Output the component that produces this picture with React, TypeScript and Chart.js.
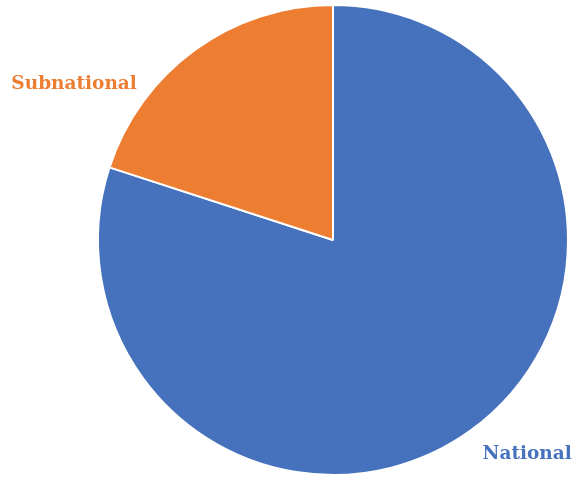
import React, { useEffect, useRef } from "react";
import { Chart, registerables } from "chart.js";

Chart.register(...registerables);

const categories = ["National", "Subnational"];
const values = [80, 20];
const colors = ["#4672BD", "#ED7D31"];

const labelPlugin = {
  id: "sliceLabels",
  afterDraw(chart: any, _args: any, opts: any) {
    const ctx = chart.ctx;
    const meta = chart.getDatasetMeta(0);
    const positions = opts.positions || [];
    ctx.save();
    ctx.font = "bold 18.5px 'DejaVu Serif'";
    ctx.textBaseline = "middle";
    meta.data.forEach((arc: any, i: number) => {
      const p = positions[i];
      if (!p) return;
      const x = arc.x + p.dx * arc.outerRadius;
      const y = arc.y + p.dy * arc.outerRadius;
      ctx.fillStyle = colors[i];
      ctx.textAlign = "center";
      ctx.fillText(chart.data.labels[i], x, y);
    });
    ctx.restore();
  },
};

export default function App() {
  const ref = useRef<HTMLCanvasElement | null>(null);
  useEffect(() => {
    if (!ref.current) return;
    const chart = new Chart(ref.current, {
      type: "pie",
      data: {
        labels: categories,
        datasets: [
          {
            data: values,
            backgroundColor: colors,
            borderColor: "#ffffff",
            borderWidth: 2,
          },
        ],
      },
      options: {
        animation: false,
        responsive: true,
        maintainAspectRatio: false,
        layout: { padding: { left: 97, right: 9, top: 4, bottom: 7 } },
        plugins: {
          legend: { display: false },
          tooltip: { enabled: false },
          sliceLabels: {
            positions: [
              { dx: 195 / 236, dy: 215 / 236 },
              { dx: -260 / 236, dy: -156 / 236 },
            ],
          },
        } as any,
      },
      plugins: [labelPlugin],
    });
    return () => chart.destroy();
  }, []);
  return (
    <div style={{ position: "fixed", left: 0, top: 0, width: 578, height: 483, background: "#fff" }}>
      <canvas ref={ref} />
    </div>
  );
}
